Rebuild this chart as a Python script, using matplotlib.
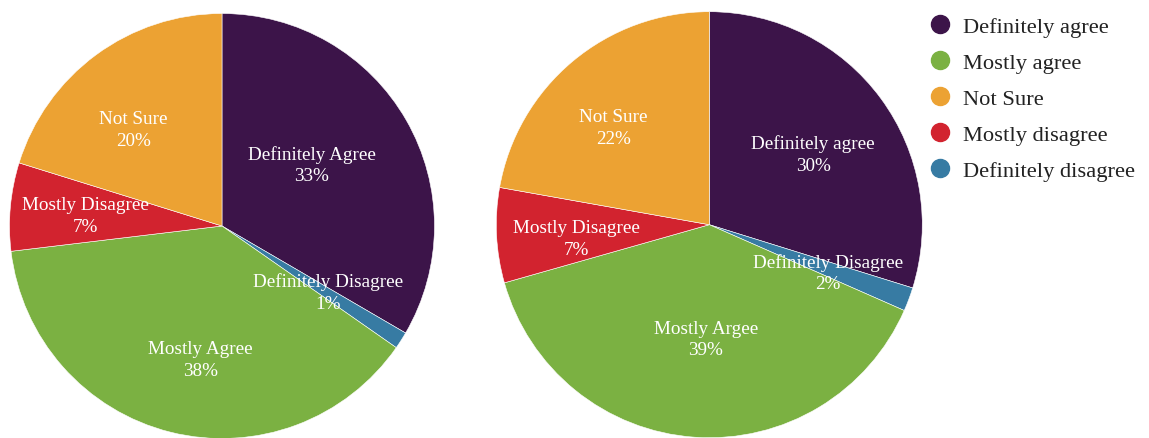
import matplotlib
matplotlib.use("Agg")
import matplotlib.pyplot as plt
from matplotlib.lines import Line2D
import numpy as np

plt.rcParams['font.family'] = ['Liberation Serif', 'DejaVu Serif']

# Data
left_labels = ["Definitely Agree", "Definitely Disagree", "Mostly Agree", "Mostly Disagree", "Not Sure"]
left_values = [33.4, 1.3, 38.4, 6.7, 20.2]
right_labels = ["Definitely agree", "Definitely Disagree", "Mostly Argee", "Mostly Disagree", "Not Sure"]
right_values = [29.8, 1.8, 39.0, 7.2, 22.2]
legend_labels = ["Definitely agree", "Mostly agree", "Not Sure", "Mostly disagree", "Definitely disagree"]

# Styles (label placement: radial fraction and clockwise angle nudge in degrees)
slice_colors = ["#3c1449", "#377ba3", "#7bb142", "#d2232f", "#eca233"]
legend_colors = ["#3c1449", "#7bb142", "#eca233", "#d2232f", "#377ba3"]
left_label_r = [0.513, 0.588, 0.635, 0.645, 0.617]
left_label_nudge = [-4.5, -0.5, -4.8, -0.7, -6.2]
right_label_r = [0.59, 0.60, 0.537, 0.626, 0.642]
right_label_nudge = [2.2, 1.4, -2.3, -3.2, -4.6]

W, H = 1149, 439
fig = plt.figure(figsize=(W / 100, H / 100), dpi=100)


def draw_pie(cx, cy, r, values, labels, label_r, nudge):
    ax = fig.add_axes([(cx - r) / W, (H - cy - r) / H, 2 * r / W, 2 * r / H])
    wedges, _ = ax.pie(values, colors=slice_colors, startangle=90, counterclock=False,
                       radius=1, wedgeprops=dict(edgecolor="white", linewidth=0.4))
    ax.set_xlim(-1, 1)
    ax.set_ylim(-1, 1)
    ax.set_aspect("equal")
    ax.axis("off")
    for w, lab, v, lr, nd in zip(wedges, labels, values, label_r, nudge):
        mid = np.deg2rad((w.theta1 + w.theta2) / 2 - nd)
        ax.text(lr * np.cos(mid), lr * np.sin(mid), f"{lab}\n{round(v)}%",
                ha="center", va="center", color="white", fontsize=13.8,
                linespacing=1.36)
    return ax


draw_pie(222, 227, 212.5, left_values, left_labels, left_label_r, left_label_nudge)
draw_pie(709.3, 225.7, 213, right_values, right_labels, right_label_r, right_label_nudge)

handles = [Line2D([0], [0], marker="o", linestyle="none", markersize=13,
                  markerfacecolor=c, markeredgecolor=c) for c in legend_colors]
fig.legend(handles, legend_labels, loc="upper left",
           bbox_to_anchor=(928.75 / W, 1 - 17 / H), frameon=False,
           fontsize=16.2, labelcolor="#222222", handlelength=1.0,
           handletextpad=0.52, labelspacing=0.68, borderpad=0, borderaxespad=0)

fig.savefig("out.png", dpi=100, facecolor="white")
